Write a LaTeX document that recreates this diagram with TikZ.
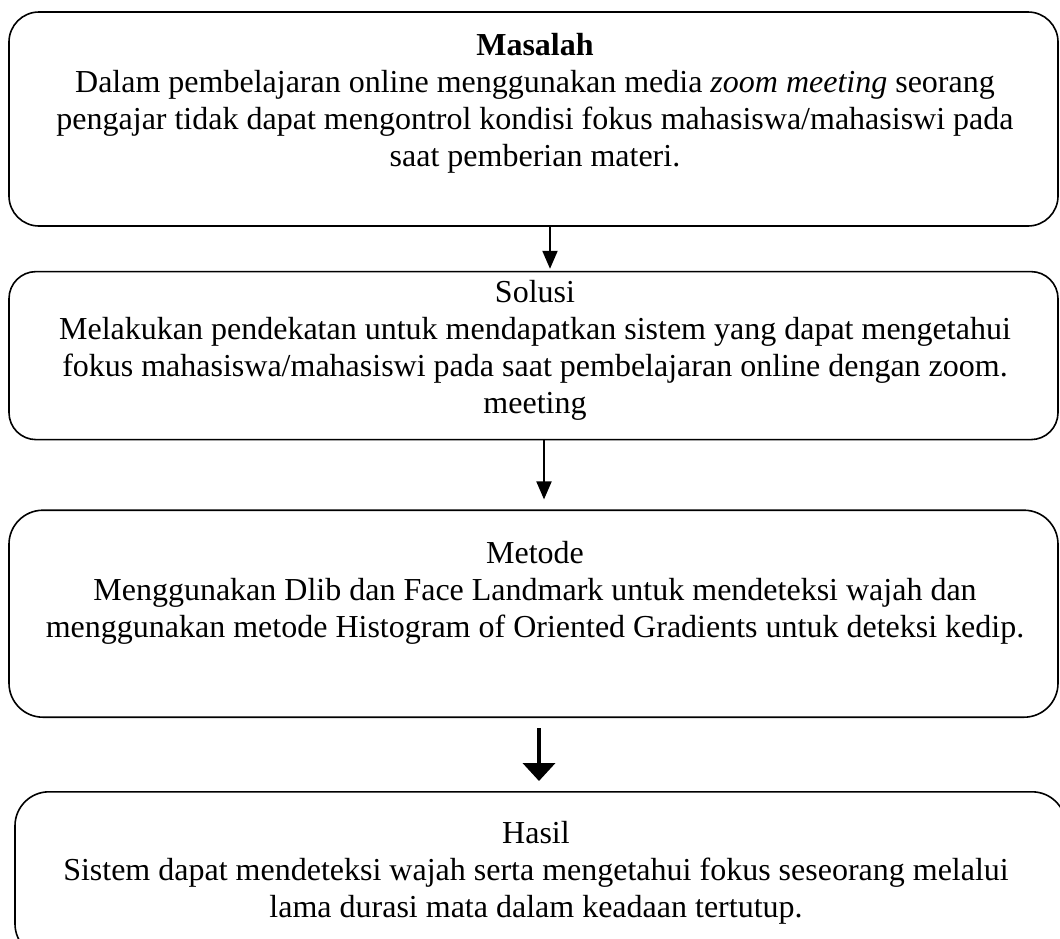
\documentclass[tikz,border=0pt]{standalone}
\usepackage{fontspec}
\setmainfont{Liberation Serif}
\usetikzlibrary{arrows.meta, positioning, calc}

\begin{document}
\begin{tikzpicture}[
      box/.style={draw, line width=0.8pt, minimum width=524.5pt,
        inner sep=0pt},
      boxtext/.style={align=center, inner sep=0pt, anchor=base,
        font=\fontsize{16pt}{18.5pt}\selectfont},
      arr/.style={line width=1pt, -{Triangle[width=7.5pt, length=9pt]}},
      bigarr/.style={line width=2pt, -{Triangle[width=16pt, length=9pt]}}
    ]
      \useasboundingbox (0pt,0pt) rectangle (530pt,-469pt);
      \clip (0pt,0pt) rectangle (530pt,-469pt);
      % boxes
      \node[box, minimum height=107pt, rounded corners=15pt] (masalah)
        at (266.75pt,-59.5pt) {};
      \node[box, minimum height=84pt, rounded corners=13.5pt,
        below=22pt of masalah] (solusi) {};
      \node[box, minimum height=103.5pt, rounded corners=17pt,
        below=34.5pt of solusi] (metode) {};
      \node[box, minimum height=83pt, rounded corners=17pt,
        below=36.5pt of metode, xshift=3.5pt, minimum width=525.5pt] (hasil) {};
      % texts (base = last line)
      \node[boxtext] (masalahtext)
        at ([xshift=0.75pt, yshift=-77.5pt]masalah.north)
        {\textbf{Masalah}\\
         Dalam pembelajaran online menggunakan media \textit{zoom meeting} seorang\\
         pengajar tidak dapat mengontrol kondisi fokus mahasiswa/mahasiswi pada\\
         saat pemberian materi.};
      \node[boxtext] (solusitext)
        at ([xshift=0.75pt, yshift=-71.5pt]solusi.north)
        {Solusi\\
         Melakukan pendekatan untuk mendapatkan sistem yang dapat mengetahui\\
         fokus mahasiswa/mahasiswi pada saat pembelajaran online dengan zoom.\\
         meeting};
      \node[boxtext] (metodetext)
        at ([xshift=0.75pt, yshift=-64pt]metode.north)
        {Metode\\
         Menggunakan Dlib dan Face Landmark untuk mendeteksi wajah dan\\
         menggunakan metode Histogram of Oriented Gradients untuk deteksi kedip.};
      \node[boxtext] (hasiltext)
        at ([xshift=-2.25pt, yshift=-63pt]hasil.north)
        {Hasil\\
         Sistem dapat mendeteksi wajah serta mengetahui fokus seseorang melalui\\
         lama durasi mata dalam keadaan tertutup.};
      % arrows
      \draw[arr, shorten >=1pt] ([xshift=8.25pt]masalah.south)
        -- ([xshift=8.25pt]masalah.south |- solusi.north);
      \draw[arr, shorten >=5pt] ([xshift=5.25pt]solusi.south)
        -- ([xshift=5.25pt]solusi.south |- metode.north);
      \draw[bigarr, shorten <=5pt, shorten >=5pt] ([xshift=2.75pt]metode.south)
        -- ([xshift=2.75pt]metode.south |- hasil.north);
    \end{tikzpicture}
\end{document}
